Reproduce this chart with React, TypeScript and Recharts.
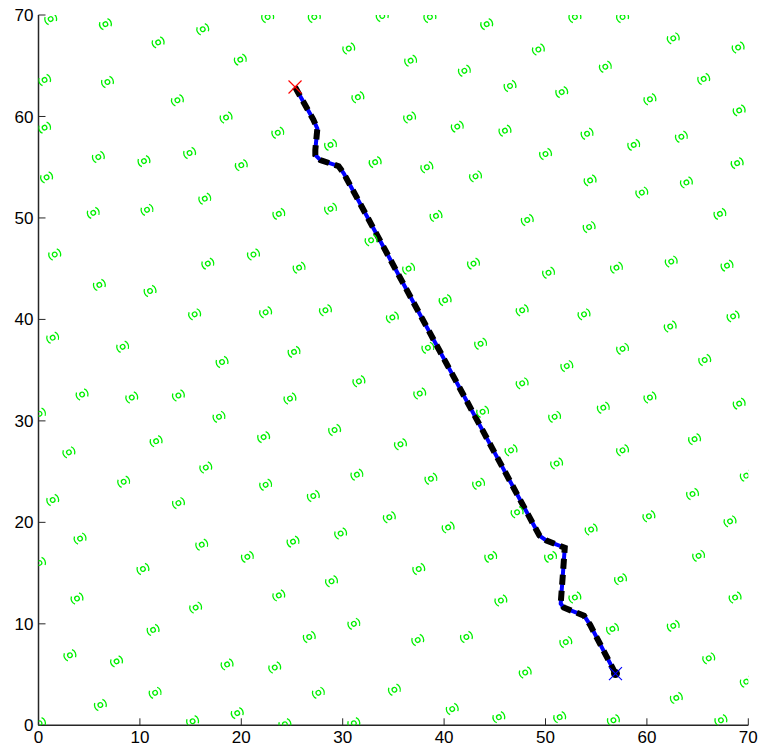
import React from 'react';
import { ComposedChart, Scatter, Line, XAxis, YAxis } from 'recharts';

const axisTicks = [0, 10, 20, 30, 40, 50, 60, 70];

// anchor nodes (green markers), [x, y]
const beacons: [number, number][] = [
  [1.2, 69.6], [6.6, 69.1], [11.8, 67.3], [16.2, 68.6], [22.6, 69.8], [27.2, 69.8], [33.9, 69.9], [30.6, 66.7],
  [19.9, 65.6], [0.6, 63.6], [6.8, 63.4], [13.7, 61.6], [18.5, 59.9], [31.5, 61.9], [0.6, 58.9], [23.6, 58.4],
  [28.8, 57.2], [5.9, 56.0], [10.4, 55.6], [14.9, 56.4], [20.0, 55.2], [33.2, 55.5], [0.8, 54.0], [16.4, 51.9],
  [5.4, 50.5], [10.7, 50.8], [23.7, 50.4], [28.8, 50.9], [32.8, 47.8], [1.6, 46.4], [16.7, 45.5], [21.2, 46.4],
  [25.7, 45.1], [6.0, 43.4], [11.0, 42.8], [15.4, 40.5], [22.4, 40.7], [28.3, 40.9], [34.9, 40.2], [1.4, 38.2],
  [8.3, 37.3], [18.1, 35.8], [25.2, 36.8],
  [38.6, 69.8], [44.2, 69.1], [52.9, 69.8], [57.6, 69.8], [62.6, 67.7], [69.0, 66.8], [49.3, 66.6], [36.7, 65.5],
  [42.0, 64.5], [55.9, 64.9], [46.5, 63.0], [51.6, 62.4], [65.6, 63.7], [60.3, 61.7], [69.1, 60.6], [36.6, 59.9],
  [41.3, 59.0], [46.0, 58.6], [54.1, 58.3], [58.7, 57.2], [63.4, 58.0], [50.0, 56.3], [38.3, 55.0], [43.1, 54.1],
  [54.4, 53.7], [59.5, 52.5], [63.9, 53.5], [68.9, 55.4], [39.2, 50.2], [48.2, 49.8], [54.3, 49.1], [67.2, 50.4],
  [36.5, 45.0], [42.9, 45.5], [50.3, 44.6], [57.0, 45.1], [62.4, 45.7], [67.9, 45.3], [40.1, 41.9], [47.7, 40.9],
  [53.8, 40.5], [62.3, 39.3], [68.5, 40.3], [38.4, 37.2], [43.6, 37.6], [57.6, 37.1], [65.7, 36.0], [52.1, 35.4],
  [31.6, 33.9], [4.3, 32.6], [9.2, 32.3], [13.8, 32.5], [24.8, 32.2], [0.1, 30.7], [17.8, 30.4], [3.0, 26.9],
  [11.6, 28.0], [22.2, 28.4], [29.2, 29.1], [16.5, 25.4], [8.4, 24.0], [22.4, 23.7], [31.4, 24.7], [1.4, 22.2],
  [13.8, 21.9], [27.1, 22.6], [34.6, 20.5], [4.1, 18.4], [16.1, 17.8], [25.1, 18.1], [29.8, 18.9], [0.1, 16.0],
  [10.3, 15.4], [20.6, 16.6], [28.9, 14.2], [3.8, 12.5], [15.5, 11.6], [23.7, 12.8], [11.3, 9.4], [26.7, 8.7],
  [31.1, 10.0], [3.1, 6.9], [7.7, 6.3], [18.6, 6.0], [23.3, 5.7], [11.5, 3.2], [27.6, 3.2], [35.1, 3.5],
  [6.1, 2.0], [19.6, 1.2], [15.2, 0.4], [24.3, 0.1], [31.1, 0.2], [0.1, 0.2],
  [47.7, 33.7], [37.6, 32.7], [60.3, 32.3], [69.1, 31.7], [55.7, 31.3], [43.8, 30.9], [50.9, 30.4], [35.7, 27.7],
  [46.6, 27.1], [57.6, 27.1], [64.7, 28.2], [51.1, 25.8], [69.8, 24.6], [38.7, 24.3], [43.4, 23.8], [64.5, 22.8],
  [47.2, 21.0], [60.2, 20.6], [40.4, 19.5], [54.5, 19.3], [68.2, 20.1], [44.6, 16.6], [50.5, 16.6], [65.1, 16.7],
  [37.5, 15.4], [57.4, 14.4], [52.9, 12.6], [45.6, 12.3], [68.7, 12.6], [56.6, 9.5], [62.6, 9.8], [37.4, 8.4],
  [42.2, 8.7], [52.0, 8.2], [66.1, 6.6], [48.0, 5.2], [69.8, 4.3], [62.9, 2.7], [40.8, 1.6], [45.4, 0.8],
  [51.4, 0.8], [56.7, 0.5], [67.3, 0.5],
];

// travelled route, start -> end
const route: [number, number][] = [
  [25.3, 62.9], [27.1, 59.7], [27.5, 58.8], [27.3, 56.7], [27.3, 56.2], [27.8, 55.7], [29.6, 55.1], [30.1, 54.4],
  [49.4, 18.7], [50.1, 18.2], [51.9, 17.5], [51.8, 16.1], [51.7, 14.7], [51.5, 12.0], [51.8, 11.6], [53.8, 10.8],
  [54.4, 9.9], [56.9, 5.1],
];

const beaconData = beacons.map(([x, y]) => ({ x, y }));
const routeData = route.map(([x, y]) => ({ x, y }));
const startData = [routeData[0]];
const endData = [routeData[routeData.length - 1]];

const BeaconMark = (props: any) => {
  const { cx, cy } = props;
  if (cx == null || cy == null) return null;
  const d = 4.2;
  return (
    <g transform={`rotate(-25 ${cx} ${cy})`} fill="none" stroke="#00f000" strokeWidth={1.3}>
      <circle cx={cx} cy={cy} r={2.3} />
      <path d={`M${cx + d},${cy - d} A6,6 0 0 1 ${cx + d},${cy + d}`} />
      <path d={`M${cx - d},${cy + d} A6,6 0 0 1 ${cx - d},${cy - d}`} />
    </g>
  );
};

const crossMark = (color: string, s: number, dot?: boolean) => (props: any) => {
  const { cx, cy } = props;
  if (cx == null || cy == null) return null;
  return (
    <g>
      {dot && <circle cx={cx} cy={cy} r={4.5} fill="#000" />}
      <line x1={cx - s} y1={cy - s} x2={cx + s} y2={cy + s} stroke={color} strokeWidth={1.2} />
      <line x1={cx - s} y1={cy + s} x2={cx + s} y2={cy - s} stroke={color} strokeWidth={1.2} />
    </g>
  );
};

const tickFont = { fill: '#000', fontSize: 17, fontFamily: '"Liberation Sans", Arial, sans-serif' };
const axisStroke = { stroke: '#262626', strokeWidth: 1.5 };

const App = () => {
  return (
    <div style={{ position: 'absolute', left: 0, top: 0, width: 760, height: 756 }}>
      <ComposedChart width={760} height={756} margin={{ top: 15, right: 11.7, bottom: 0.7, left: 8.5 }}>
        <XAxis
          type="number"
          dataKey="x"
          domain={[0, 70]}
          ticks={axisTicks}
          interval={0}
          allowDataOverflow
          height={30}
          tickSize={-7}
          tickMargin={13}
          axisLine={axisStroke}
          tickLine={{ stroke: '#262626' }}
          tick={tickFont}
        />
        <XAxis
          xAxisId="top"
          orientation="top"
          type="number"
          domain={[0, 70]}
          ticks={axisTicks}
          interval={0}
          height={0}
          tickSize={-7}
          axisLine={axisStroke}
          tickLine={{ stroke: '#262626' }}
          tick={false}
        />
        <YAxis
          type="number"
          dataKey="y"
          domain={[0, 70]}
          ticks={axisTicks}
          interval={0}
          allowDataOverflow
          width={30}
          tickSize={-7}
          tickMargin={12}
          axisLine={axisStroke}
          tickLine={{ stroke: '#262626' }}
          tick={tickFont}
        />
        <YAxis
          yAxisId="right"
          orientation="right"
          type="number"
          domain={[0, 70]}
          ticks={axisTicks}
          interval={0}
          width={0}
          tickSize={-7}
          axisLine={axisStroke}
          tickLine={{ stroke: '#262626' }}
          tick={false}
        />
        <Scatter data={beaconData} dataKey="y" shape={BeaconMark} isAnimationActive={false} />
        <Line data={routeData} dataKey="y" type="linear" stroke="#0000ff" strokeWidth={4} dot={false} isAnimationActive={false} />
        <Line
          data={routeData}
          dataKey="y"
          type="linear"
          stroke="#000"
          strokeWidth={6}
          strokeDasharray="10 6"
          dot={false}
          isAnimationActive={false}
        />
        <Scatter data={startData} dataKey="y" shape={crossMark('#ff0000', 6.5)} isAnimationActive={false} />
        <Scatter data={endData} dataKey="y" shape={crossMark('#0000ff', 6.5, true)} isAnimationActive={false} />
      </ComposedChart>
    </div>
  );
};

export default App;
